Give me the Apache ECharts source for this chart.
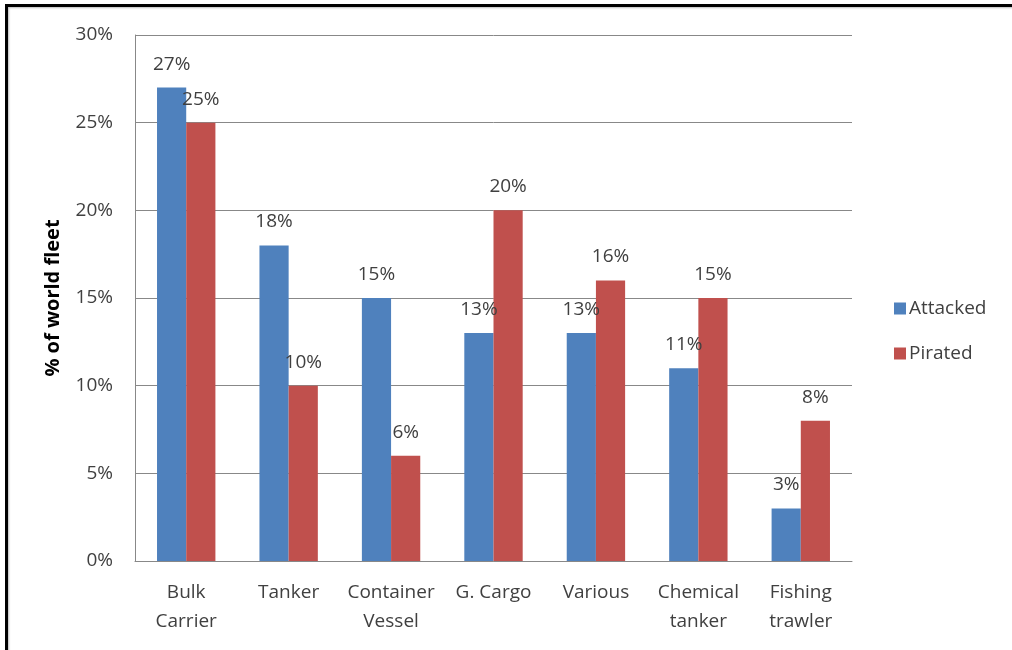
<!DOCTYPE html>
<html>
<head>
<meta charset="utf-8">
<script src="https://cdn.jsdelivr.net/npm/echarts@6/dist/echarts.min.js"></script>
<style>
    html, body {margin: 0; padding: 0; background: #fff;}
    #frame {
        position: absolute; left: 5px; top: 4px; width: 1020px; height: 660px;
        border-left: 3px solid #000; border-top: 3px solid #000;
        box-shadow: 1px 1px 2px #bbb inset;
    }
    #chart {position: absolute; left: 0; top: 0; width: 1012px; height: 650px;}
</style>
</head>
<body>
<div id="frame"></div>
<div id="chart"></div>
<script>
const categories = ['Bulk\nCarrier', 'Tanker', 'Container\nVessel', 'G. Cargo', 'Various', 'Chemical\ntanker', 'Fishing\ntrawler'];
const attacked = [27, 18, 15, 13, 13, 11, 3];
const pirated = [25, 10, 6, 20, 16, 15, 8];

const fontFamily = '"Open Sans", "Noto Sans", sans-serif';
const textColor = '#404040';

const myChart = echarts.init(document.getElementById('chart'));

const labelStyle = {
    show: true,
    position: 'top',
    distance: 14,
    formatter: '{c}%',
    fontFamily: fontFamily,
    fontSize: 19,
    color: textColor
};

const option = {
    backgroundColor: 'transparent',
    animation: false,
    color: ['#4F81BD', '#C0504D'],
    grid: {
        left: 135,
        top: 35,
        right: 160,
        bottom: 89
    },
    legend: {
        orient: 'vertical',
        left: 889,
        top: 294,
        itemWidth: 12,
        itemHeight: 12,
        itemGap: 26,
        icon: 'rect',
        data: ['Attacked', 'Pirated'],
        textStyle: {
            fontFamily: fontFamily,
            fontSize: 19,
            color: textColor,
            padding: [0, 0, 0, -2]
        }
    },
    xAxis: {
        type: 'category',
        data: categories,
        axisLine: {lineStyle: {color: '#888', width: 1}},
        axisTick: {show: false},
        axisLabel: {
            interval: 0,
            margin: 17,
            fontFamily: fontFamily,
            fontSize: 19,
            lineHeight: 29,
            color: textColor,
            verticalAlign: 'top'
        }
    },
    yAxis: {
        type: 'value',
        min: 0,
        max: 30,
        interval: 5,
        name: '% of world fleet',
        nameLocation: 'middle',
        nameGap: 72,
        nameTextStyle: {
            fontFamily: fontFamily,
            fontSize: 20,
            fontWeight: 'bold',
            color: '#000'
        },
        axisLine: {show: true, lineStyle: {color: '#888', width: 1}},
        axisTick: {show: false},
        splitLine: {lineStyle: {color: '#888', width: 1}},
        axisLabel: {
            formatter: '{value}%',
            margin: 22,
            fontFamily: fontFamily,
            fontSize: 19,
            color: textColor
        }
    },
    series: [
        {
            name: 'Attacked',
            type: 'bar',
            data: attacked,
            barGap: '0%',
            barCategoryGap: '43%',
            label: labelStyle
        },
        {
            name: 'Pirated',
            type: 'bar',
            data: pirated,
            barGap: '0%',
            barCategoryGap: '43%',
            label: labelStyle
        }
    ]
};

myChart.setOption(option);
</script>
</body>
</html>
